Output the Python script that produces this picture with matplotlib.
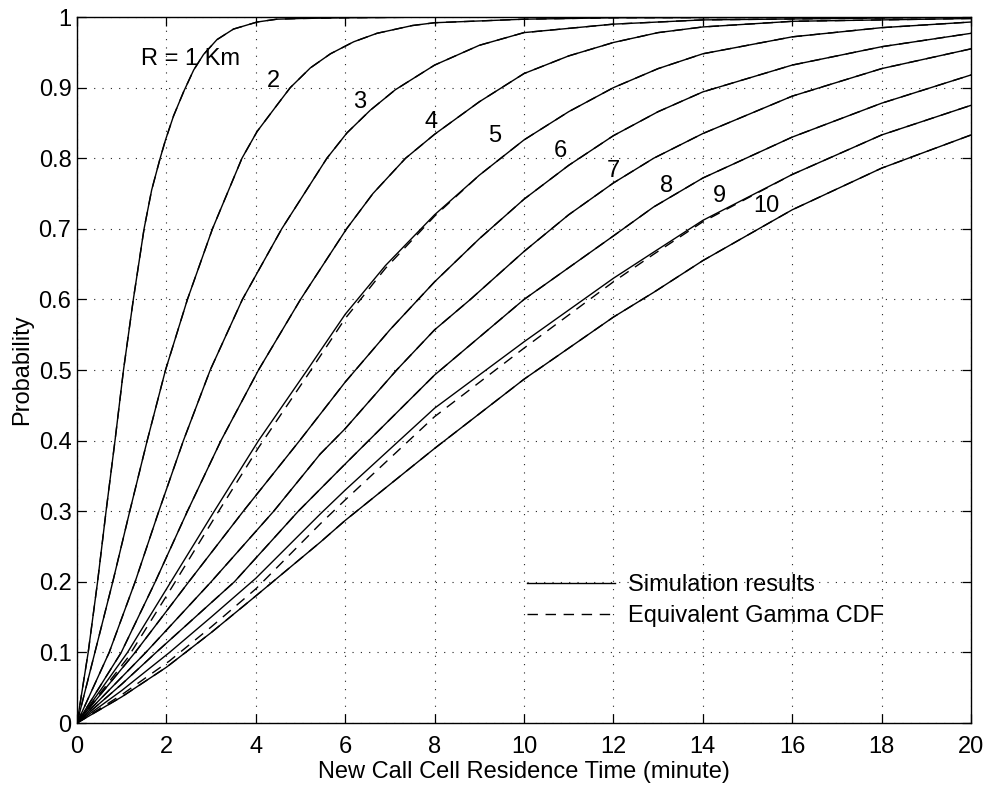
import matplotlib
matplotlib.use("Agg")
import matplotlib.pyplot as plt
from matplotlib.lines import Line2D

plt.rcParams['font.family'] = ['Liberation Sans', 'DejaVu Sans']

# ---------------- data ----------------
sim_r1_x = [0, 0.25, 0.46, 0.65, 0.85, 1.04, 1.26, 1.5, 1.67, 1.86, 1.98, 2.16, 2.39, 2.61, 2.83, 3.13, 3.5, 4.03, 4.47, 5.0, 6.0, 8.0, 20.0]
sim_r1_y = [0, 0.1, 0.2, 0.3, 0.4, 0.5, 0.6, 0.7, 0.755, 0.8, 0.826, 0.86, 0.895, 0.925, 0.947, 0.968, 0.983, 0.993, 0.997, 0.998, 0.999, 1.0, 1.0]

sim_r2_x = [0, 0.4, 0.8, 1.18, 1.57, 1.98, 2.47, 3.03, 3.69, 4.03, 4.47, 4.77, 5.22, 5.67, 6.19, 6.71, 7.5, 8.0, 10.0, 12.0, 20.0]
sim_r2_y = [0, 0.1, 0.2, 0.3, 0.4, 0.5, 0.6, 0.7, 0.8, 0.838, 0.875, 0.9, 0.928, 0.948, 0.965, 0.977, 0.988, 0.992, 0.997, 0.999, 1.0]

sim_r3_x = [0, 0.72, 1.3, 1.83, 2.38, 2.98, 3.7, 4.58, 5.59, 6.04, 6.56, 7.12, 8.0, 9.0, 10.0, 12.0, 14.0, 20.0]
sim_r3_y = [0, 0.1, 0.2, 0.3, 0.4, 0.5, 0.6, 0.7, 0.8, 0.836, 0.868, 0.897, 0.932, 0.96, 0.978, 0.99, 0.996, 1.0]

sim_r4_x = [0, 0.99, 1.75, 2.47, 3.22, 4.06, 5.0, 6.03, 6.62, 7.35, 8.0, 9.0, 10.0, 11.0, 12.0, 13.0, 14.0, 16.0, 20.0]
sim_r4_y = [0, 0.1, 0.2, 0.3, 0.4, 0.5, 0.6, 0.7, 0.75, 0.8, 0.834, 0.88, 0.92, 0.945, 0.964, 0.978, 0.986, 0.994, 0.998]

sim_r5_x = [0, 1.13, 2.1, 3.07, 4.06, 5.15, 6.0, 6.9, 8.0, 9.0, 10.0, 11.0, 12.0, 13.0, 14.0, 16.0, 18.0, 20.0]
sim_r5_y = [0, 0.1, 0.2, 0.3, 0.4, 0.5, 0.579, 0.648, 0.72, 0.776, 0.826, 0.866, 0.9, 0.927, 0.948, 0.972, 0.985, 0.993]
gam_r5_y = [0, 0.092, 0.19, 0.29, 0.39, 0.492, 0.573, 0.644, 0.718, 0.776, 0.826, 0.866, 0.9, 0.927, 0.948, 0.972, 0.985, 0.993]

sim_r6_x = [0, 1.3, 2.5, 3.72, 4.98, 6.0, 7.0, 8.0, 9.0, 10.0, 11.0, 12.0, 13.0, 14.0, 16.0, 18.0, 20.0]
sim_r6_y = [0, 0.1, 0.2, 0.3, 0.4, 0.483, 0.557, 0.625, 0.686, 0.742, 0.79, 0.832, 0.866, 0.894, 0.932, 0.958, 0.977]

sim_r7_x = [0, 1.54, 3.0, 4.4, 5.44, 6.0, 7.15, 8.0, 8.8, 10.0, 11.0, 12.0, 12.9, 14.0, 16.0, 18.0, 20.0]
sim_r7_y = [0, 0.1, 0.2, 0.3, 0.381, 0.417, 0.5, 0.557, 0.6, 0.668, 0.72, 0.765, 0.80, 0.835, 0.888, 0.927, 0.955]

sim_r8_x = [0, 1.0, 1.77, 3.52, 4.95, 6.0, 8.0, 10.0, 12.0, 12.9, 14.0, 16.0, 18.0, 20.0]
sim_r8_y = [0, 0.055, 0.1, 0.2, 0.3, 0.367, 0.493, 0.6, 0.69, 0.731, 0.772, 0.83, 0.878, 0.918]

sim_r9_x = [0, 1.0, 2.07, 3.0, 4.0, 5.44, 6.0, 8.0, 10.0, 12.0, 12.9, 14.0, 16.0, 18.0, 20.0]
sim_r9_y = [0, 0.046, 0.1, 0.15, 0.205, 0.296, 0.33, 0.446, 0.54, 0.63, 0.667, 0.712, 0.777, 0.833, 0.875]
gam_r9_y = [0, 0.04, 0.088, 0.136, 0.19, 0.282, 0.316, 0.434, 0.531, 0.625, 0.664, 0.71, 0.777, 0.833, 0.875]

sim_r10_x = [0, 1.0, 2.0, 3.0, 4.0, 5.44, 6.0, 8.0, 10.0, 12.0, 12.9, 14.0, 16.0, 18.0, 20.0]
sim_r10_y = [0, 0.037, 0.079, 0.128, 0.18, 0.256, 0.287, 0.389, 0.487, 0.575, 0.61, 0.655, 0.727, 0.786, 0.833]

curve_labels = ["R = 1 Km", "2", "3", "4", "5", "6", "7", "8", "9", "10"]
curve_label_x = [2.53, 4.4, 6.32, 7.93, 9.34, 10.82, 12.0, 13.19, 14.37, 15.43]
curve_label_y = [0.94, 0.909, 0.88, 0.851, 0.831, 0.81, 0.782, 0.761, 0.747, 0.732]

x_ticks = [0, 2, 4, 6, 8, 10, 12, 14, 16, 18, 20]
y_ticks = [0, 0.1, 0.2, 0.3, 0.4, 0.5, 0.6, 0.7, 0.8, 0.9, 1.0]
y_tick_labels = ["0", "0.1", "0.2", "0.3", "0.4", "0.5", "0.6", "0.7", "0.8", "0.9", "1"]
legend_labels = ["Simulation results", "Equivalent Gamma CDF"]

# tables built from the arrays above
sim_curves = [(sim_r1_x, sim_r1_y), (sim_r2_x, sim_r2_y), (sim_r3_x, sim_r3_y),
              (sim_r4_x, sim_r4_y), (sim_r5_x, sim_r5_y), (sim_r6_x, sim_r6_y),
              (sim_r7_x, sim_r7_y), (sim_r8_x, sim_r8_y), (sim_r9_x, sim_r9_y),
              (sim_r10_x, sim_r10_y)]
gam_curves = [(sim_r1_x, sim_r1_y), (sim_r2_x, sim_r2_y), (sim_r3_x, sim_r3_y),
              (sim_r4_x, sim_r4_y), (sim_r5_x, gam_r5_y), (sim_r6_x, sim_r6_y),
              (sim_r7_x, sim_r7_y), (sim_r8_x, sim_r8_y), (sim_r9_x, gam_r9_y),
              (sim_r10_x, sim_r10_y)]

FS = 17
fig = plt.figure(figsize=(9.86, 7.87), dpi=100)
ax = fig.add_axes([0.0781, 0.0813, 0.9067, 0.897])

dash = (0, (7.5, 5.5))
for x, y in sim_curves:
    ax.plot(x, y, color='black', lw=1.0, solid_joinstyle='round')
for x, y in gam_curves:
    ax.plot(x, y, color='black', lw=1.0, linestyle=dash)

for t, lx, ly in zip(curve_labels, curve_label_x, curve_label_y):
    ax.text(lx, ly, t, fontsize=FS, ha='center', va='center', color='black')

ax.set_xlim(0, 20)
ax.set_ylim(0, 1)
ax.set_xticks(x_ticks)
ax.set_xticklabels([str(v) for v in x_ticks])
ax.set_yticks(y_ticks)
ax.set_yticklabels(y_tick_labels)
ax.grid(True, color='#222222', linestyle=(0, (1, 6.5)), linewidth=0.8)
ax.set_axisbelow(True)
ax.tick_params(direction='in', top=True, right=True, length=6.5, width=0.9,
               labelsize=FS, colors='black')
ax.tick_params(axis='x', pad=9.5)
ax.tick_params(axis='y', pad=4)
for s in ax.spines.values():
    s.set_linewidth(1.0)
    s.set_color('black')

ax.set_xlabel("New Call Cell Residence Time (minute)", fontsize=FS, labelpad=2)
ax.set_ylabel("Probability", fontsize=FS, labelpad=4)

handles = [Line2D([], [], color='black', lw=1.0),
           Line2D([], [], color='black', lw=1.0, linestyle=dash)]
ax.legend(handles, legend_labels, loc='center left', bbox_to_anchor=(0.503, 0.1735),
          frameon=False, fontsize=FS, handlelength=3.75, handletextpad=0.55,
          labelspacing=0.4, borderpad=0, borderaxespad=0)

fig.savefig("out.png", dpi=100)
